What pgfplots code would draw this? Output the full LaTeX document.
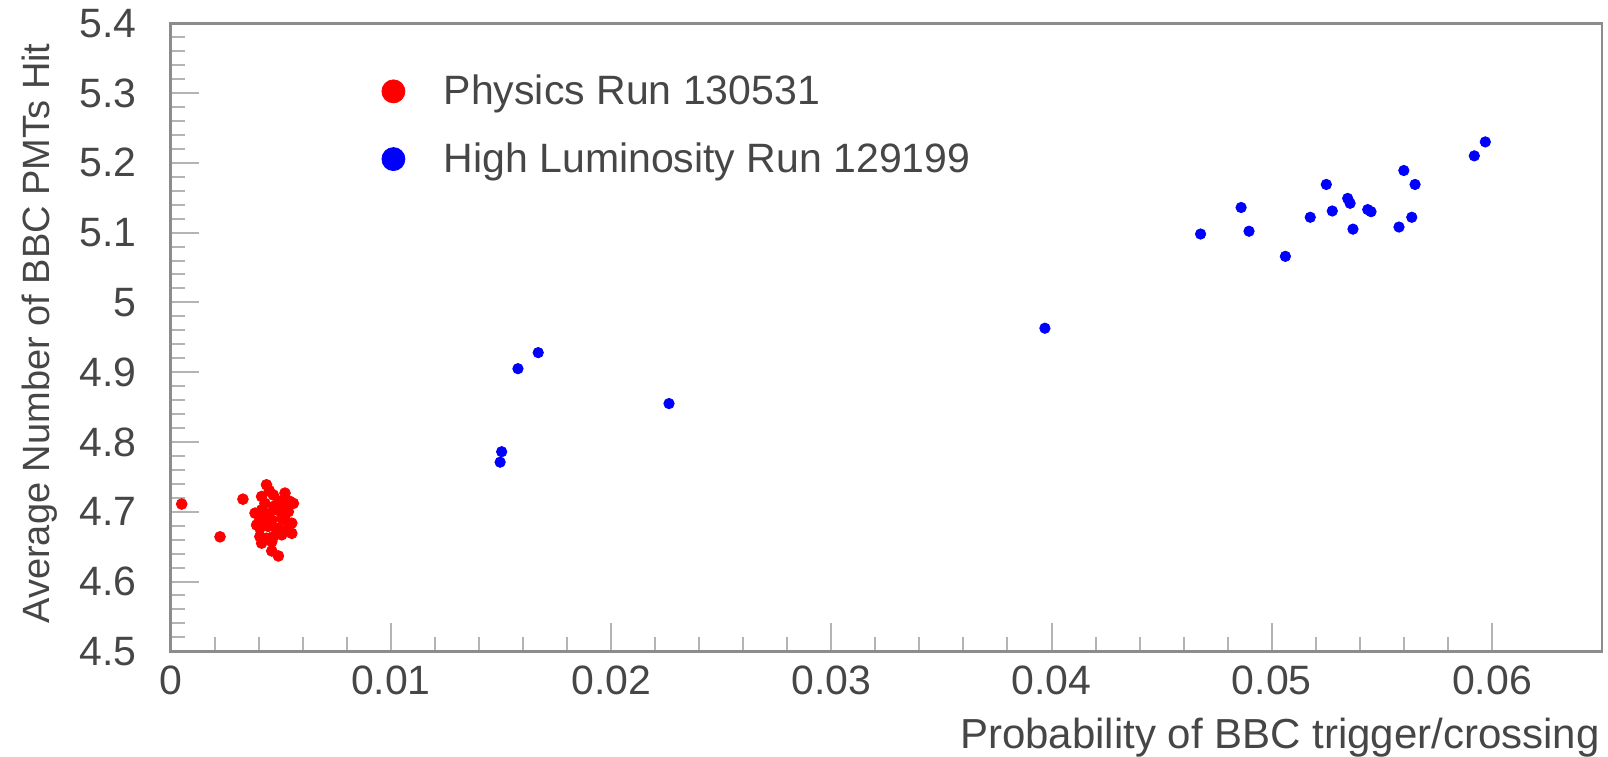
\documentclass[border=0pt]{standalone}
\usepackage{fontspec}
\setmainfont{Liberation Sans}
\usepackage{pgfplots}
\pgfplotsset{compat=1.18}
\definecolor{axisgray}{RGB}{140,140,140}
\definecolor{tickgray}{RGB}{180,180,180}
\definecolor{txtgray}{RGB}{70,70,70}
\begin{document}
\begin{tikzpicture}
\begin{axis}[
  name=ax,
  scale only axis,
  width=715.65pt, height=314pt,
  xmin=0, xmax=0.065, ymin=4.5, ymax=5.4,
  scaled x ticks=false, scaled y ticks=false,
  xtick={0,0.01,0.02,0.03,0.04,0.05,0.06},
  xticklabels={0,0.01,0.02,0.03,0.04,0.05,0.06},
  ytick={4.5,4.6,4.7,4.8,4.9,5.0,5.1,5.2,5.3,5.4},
  yticklabels={4.5,4.6,4.7,4.8,4.9,5,5.1,5.2,5.3,5.4},
  minor x tick num=4,
  minor y tick num=4,
  tick align=inside,
  xtick pos=bottom, ytick pos=left,
  major tick length=14pt, minor tick length=7pt,
  axis line style={draw=axisgray, line width=1.35pt},
  major tick style={draw=tickgray, line width=1pt},
  minor tick style={draw=tickgray, line width=1pt},
  /pgf/number format/assume math mode=true,
  xticklabel style={font=\fontsize{20.5}{24}\selectfont, text=txtgray, inner sep=0pt, anchor=north, yshift=-7pt},
  yticklabel style={font=\fontsize{20.5}{24}\selectfont, text=txtgray, inner sep=0pt, anchor=east, xshift=-17pt},
  xlabel={Probability of BBC trigger/crossing},
  xlabel style={at={(axis description cs:1,0)}, anchor=base east, inner sep=0pt, xshift=-1pt, yshift=-48.5pt, font=\fontsize{21}{24}\selectfont, text=txtgray},
  ylabel={Average Number of BBC PMTs Hit},
  ylabel style={at={(axis description cs:-0.08454,0.506)}, rotate=0, anchor=base, inner sep=0pt, font=\fontsize{19}{22}\selectfont, text=txtgray},
  legend style={at={(axis description cs:0.1473,0.924)}, anchor=north west, draw=none, fill=none, inner sep=0pt, outer sep=0pt, row sep=13.5pt, column sep=17.25pt, font=\fontsize{20.5}{24}\selectfont, text=txtgray, nodes={inner sep=2pt, text depth=0.15em}},
  legend cell align=left,
]
\addplot[only marks, mark=*, mark size=2.7pt, color=red, mark options={draw=red, fill=red},
  legend image code/.code={\fill[red] (0pt,0pt) circle (5.75pt);}] coordinates {
(0.00050,4.711) (0.00224,4.664) (0.00328,4.718) (0.00435,4.7386)
(0.00519,4.7267) (0.00557,4.712) (0.00413,4.7218) (0.00466,4.724)
(0.00428,4.712) (0.00496,4.715) (0.00383,4.698) (0.00413,4.7027)
(0.00481,4.7027) (0.00534,4.700) (0.00405,4.688) (0.00459,4.688)
(0.00504,4.691) (0.00550,4.6836) (0.00405,4.6765) (0.00443,4.679)
(0.00489,4.6765) (0.00527,4.674) (0.00550,4.669) (0.00405,4.6644)
(0.00435,4.662) (0.00466,4.6644) (0.00504,4.6669) (0.00413,4.655)
(0.00459,4.657) (0.00390,4.681) (0.00459,4.6438) (0.00489,4.6366)
(0.00445,4.697) (0.00470,4.708) (0.00520,4.688) (0.00540,4.715)
(0.00480,4.668) (0.00430,4.690) (0.00510,4.705) (0.00448,4.730)
};
\addlegendentry{Physics Run 130531}
\addplot[only marks, mark=*, mark size=2.6pt, color=blue, mark options={draw=blue, fill=blue},
  legend image code/.code={\fill[blue] (0pt,0pt) circle (5.75pt);}] coordinates {
(0.01669,4.928) (0.01577,4.905) (0.02263,4.855) (0.01503,4.786) (0.01496,4.771)
(0.03970,4.963)
(0.04677,5.098) (0.04861,5.136) (0.04897,5.102) (0.05062,5.066) (0.05175,5.122)
(0.05248,5.169) (0.05275,5.131) (0.05345,5.149) (0.05356,5.142) (0.05369,5.105)
(0.05436,5.133) (0.05451,5.130) (0.05578,5.108) (0.05600,5.189) (0.05636,5.122)
(0.05651,5.169) (0.05920,5.210) (0.05970,5.230)
};
\addlegendentry{High Luminosity Run 129199}
\end{axis}
\path (ax.south west) ++(-85.35pt,-52.85pt) coordinate (bbA);
\path (ax.north east) ++(3pt,11.65pt) coordinate (bbB);
\path[use as bounding box] (bbA) rectangle (bbB);
\end{tikzpicture}
\end{document}
